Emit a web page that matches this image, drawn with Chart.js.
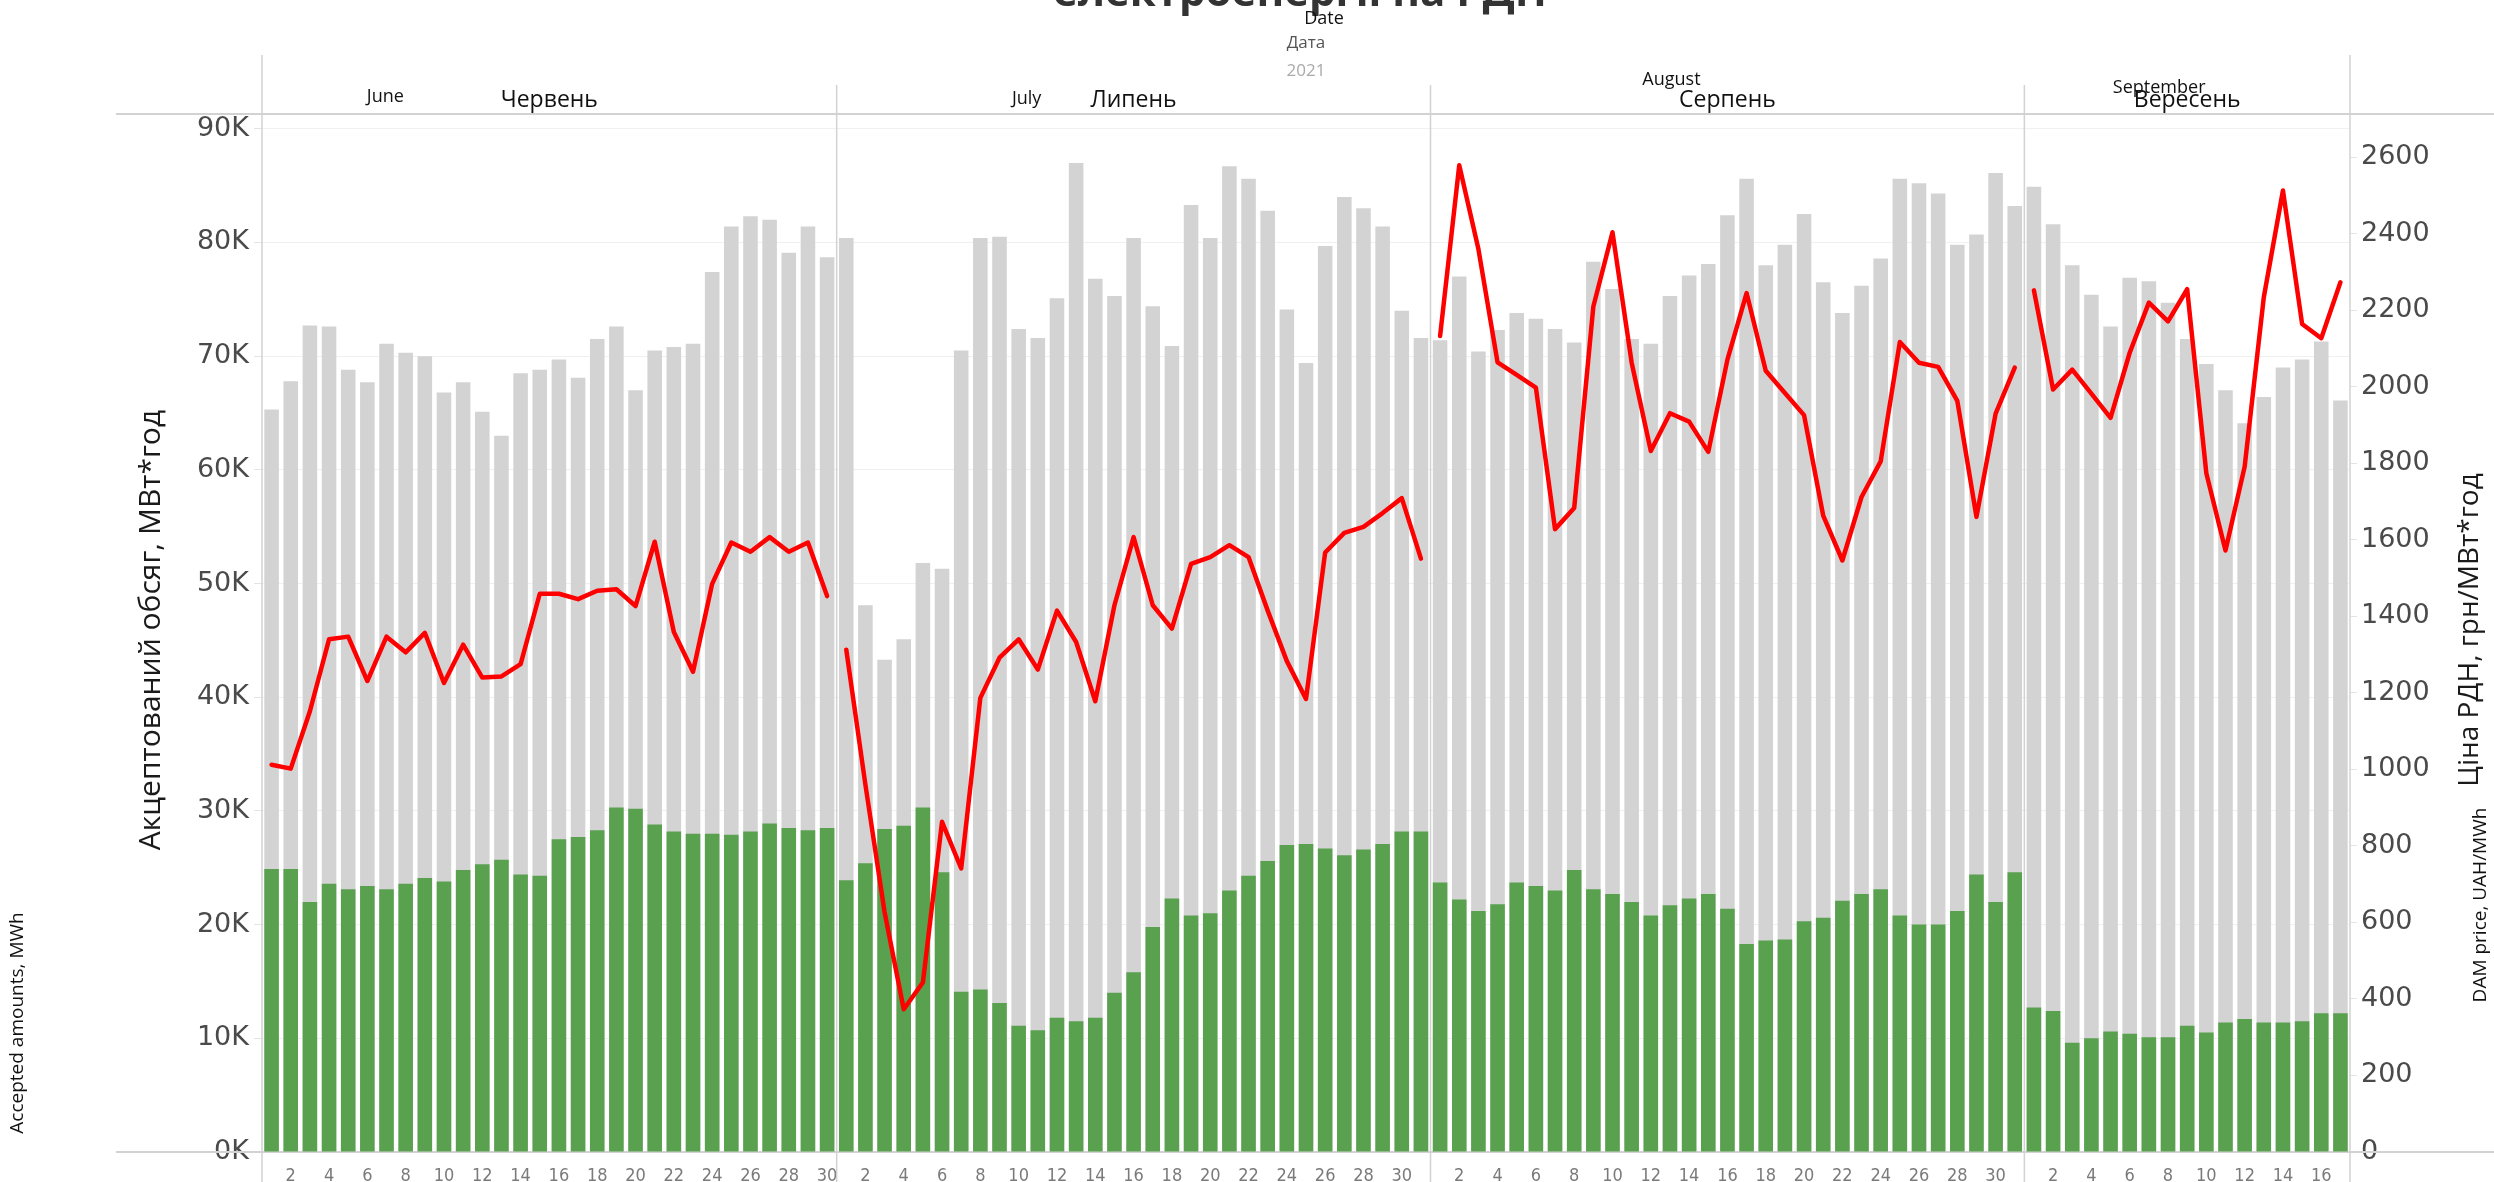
<!DOCTYPE html>
<html>
<head>
<meta charset="utf-8">
<script src="https://cdn.jsdelivr.net/npm/chart.js@4/dist/chart.umd.min.js"></script>
<style>
  html, body { margin: 0; padding: 0; background: #fff; }
  #wrap { width: 2494px; height: 1182px; position: relative; }
  canvas { display: block; }
</style>
</head>
<body>
<div id="wrap"><canvas id="c" width="2494" height="1182"></canvas></div>
<script>
// ---- Data (MWh and UAH/MWh) ----
const monthsUa = ['Червень', 'Липень', 'Серпень', 'Вересень'];
const monthsEn = ['June', 'July', 'August', 'September'];

const juneTotal = [65300,67800,72700,72600,68800,67700,71100,70300,70000,66800,67700,65100,63000,68500,68800,69700,68100,71500,72600,67000,70500,70800,71100,77400,81400,82300,82000,79100,81400,78700];
const juneGreen = [24900,24900,22000,23600,23100,23400,23100,23600,24100,23800,24800,25300,25700,24400,24300,27500,27700,28300,30300,30200,28800,28200,28000,28000,27900,28200,28900,28500,28300,28500];
const junePrice = [1012,1002,1152,1340,1347,1231,1347,1306,1357,1226,1326,1240,1243,1275,1459,1459,1445,1467,1471,1427,1595,1359,1255,1485,1593,1569,1607,1569,1593,1453];

const julyTotal = [80400,48100,43300,45100,51800,51300,70500,80400,80500,72400,71600,75100,87000,76800,75300,80400,74400,70900,83300,80400,86700,85600,82800,74100,69400,79700,84000,83000,81400,74000,71600];
const julyGreen = [23900,25400,28400,28700,30300,24600,14100,14300,13100,11100,10700,11800,11500,11800,14000,15800,19800,22300,20800,21000,23000,24300,25600,27000,27100,26700,26100,26600,27100,28200,28200];
const julyPrice = [1313,960,627,373,443,863,741,1187,1292,1340,1261,1415,1333,1178,1429,1607,1429,1368,1537,1555,1586,1555,1415,1283,1184,1567,1618,1634,1670,1709,1551];

const augTotal = [71400,77000,70400,72300,73800,73300,72400,71200,78300,75900,71500,71100,75300,77100,78100,82400,85600,78000,79800,82500,76500,73800,76200,78600,85600,85200,84300,79800,80700,86100,83200];
const augGreen = [23700,22200,21200,21800,23700,23400,23000,24800,23100,22700,22000,20800,21700,22300,22700,21400,18300,18600,18700,20300,20600,22100,22700,23100,20800,20000,20000,21200,24400,22000,24600];
const augPrice = [2133,2579,2360,2064,2031,1998,1628,1683,2210,2404,2063,1832,1931,1909,1830,2071,2245,2042,1984,1926,1663,1546,1712,1805,2117,2063,2052,1963,1660,1930,2050];

const sepTotal = [84900,81600,78000,75400,72600,76900,76600,74700,71500,69300,67000,64100,66400,69000,69700,71300,66100];
const sepGreen = [12700,12400,9600,10000,10600,10400,10100,10100,11100,10500,11400,11700,11400,11400,11500,12200,12200];
const sepPrice = [2252,1993,2045,1982,1919,2089,2220,2171,2255,1774,1572,1791,2234,2513,2164,2127,2273];

const volumeTicks = [0,10000,20000,30000,40000,50000,60000,70000,80000,90000];
const priceTicks = [0,200,400,600,800,1000,1200,1400,1600,1800,2000,2200,2400,2600];

const totals = [juneTotal, julyTotal, augTotal, sepTotal];
const greens = [juneGreen, julyGreen, augGreen, sepGreen];
const prices = [junePrice, julyPrice, augPrice, sepPrice];

// ---- Build category axis ----
const dayLabels = [];
const monthStart = [];
totals.forEach(arr => { monthStart.push(dayLabels.length); arr.forEach((_, i) => dayLabels.push(i + 1)); });
const N = dayLabels.length;

const allTotal = [].concat(...totals);
const allGreen = [].concat(...greens);

const priceDatasets = prices.map((arr, m) => {
  const d = new Array(N).fill(null);
  arr.forEach((v, i) => { d[monthStart[m] + i] = v; });
  return {
    type: 'line', label: 'Ціна РДН ' + monthsUa[m], data: d, yAxisID: 'y2',
    borderColor: '#ff0000', backgroundColor: '#ff0000', borderWidth: 4.5,
    pointRadius: 0, tension: 0, spanGaps: false, order: 0,
    borderJoinStyle: 'round', borderCapStyle: 'round'
  };
});

const FONT = "'Open Sans', 'Noto Sans', sans-serif";
const LINE = '#d2d2d2';

const decor = {
  id: 'decor',
  beforeDatasetsDraw(chart) {
    const { ctx, chartArea: ca, scales } = chart;
    const x = scales.x;
    ctx.save();
    ctx.strokeStyle = LINE;
    ctx.lineWidth = 2;
    ctx.beginPath();
    ctx.moveTo(116, ca.top); ctx.lineTo(chart.width, ca.top);
    ctx.moveTo(116, ca.bottom); ctx.lineTo(chart.width, ca.bottom);
    ctx.stroke();
    ctx.lineWidth = 1.5;
    ctx.beginPath();
    ctx.moveTo(ca.left, 55); ctx.lineTo(ca.left, chart.height);
    ctx.moveTo(ca.right, 55); ctx.lineTo(ca.right, chart.height);
    for (let m = 1; m < monthStart.length; m++) {
      const i = monthStart[m];
      const px = (x.getPixelForValue(i - 1) + x.getPixelForValue(i)) / 2;
      ctx.moveTo(px, 85); ctx.lineTo(px, chart.height);
    }
    ctx.stroke();
    ctx.restore();
  },
  afterDraw(chart) {
    const { ctx, chartArea: ca, scales } = chart;
    const x = scales.x;
    ctx.save();
    ctx.textAlign = 'center';
    // Title (cut off by the page top)
    ctx.fillStyle = '#333';
    ctx.font = "bold 42px " + FONT;
    ctx.textBaseline = 'alphabetic';
    ctx.fillText('електроенергії на РДН', 1300, 6);
    ctx.textBaseline = 'middle';
    const cx = (ca.left + ca.right) / 2;
    ctx.fillStyle = '#111';
    ctx.font = "18px " + FONT;
    ctx.fillText('Date', cx + 18, 19);
    ctx.fillStyle = '#555';
    ctx.font = "17px " + FONT;
    ctx.fillText('Дата', cx, 43);
    ctx.fillStyle = '#aaa';
    ctx.fillText('2021', cx, 71);
    const enOffset = [-164, -107, -56, -28];
    const enY = [97, 99, 80, 88];
    for (let m = 0; m < monthStart.length; m++) {
      const s = monthStart[m];
      const e = m + 1 < monthStart.length ? monthStart[m + 1] : N;
      const left = m === 0 ? ca.left : (x.getPixelForValue(s - 1) + x.getPixelForValue(s)) / 2;
      const right = e === N ? ca.right : (x.getPixelForValue(e - 1) + x.getPixelForValue(e)) / 2;
      const mc = (left + right) / 2;
      ctx.fillStyle = '#111';
      ctx.font = "23px " + FONT;
      ctx.fillText(monthsUa[m], mc, 100);
      ctx.font = "18px " + FONT;
      ctx.fillText(monthsEn[m], mc + enOffset[m], enY[m]);
    }
    const vt = (text, px, py, font, color) => {
      ctx.save();
      ctx.translate(px, py);
      ctx.rotate(-Math.PI / 2);
      ctx.fillStyle = color;
      ctx.font = font;
      ctx.fillText(text, 0, 0);
      ctx.restore();
    };
    vt('Акцептований обсяг, МВт*год', 151, 630, "30px " + FONT, '#1a1a1a');
    vt('Accepted amounts, MWh', 18, 1023, "19px " + FONT, '#111');
    vt('Ціна РДН, грн/МВт*год', 2470, 630, "28px " + FONT, '#1a1a1a');
    vt('DAM price, UAH/MWh', 2481, 905, "19px " + FONT, '#111');
    ctx.restore();
  }
};

new Chart(document.getElementById('c'), {
  data: {
    labels: dayLabels,
    datasets: [
      ...priceDatasets,
      { type: 'bar', label: 'Green', data: allGreen, yAxisID: 'y', backgroundColor: '#59a14f',
        grouped: false, barPercentage: 0.76, categoryPercentage: 1.0, order: 1 },
      { type: 'bar', label: 'Total', data: allTotal, yAxisID: 'y', backgroundColor: '#d3d3d3',
        grouped: false, barPercentage: 0.76, categoryPercentage: 1.0, order: 2 }
    ]
  },
  options: {
    responsive: false,
    animation: false,
    devicePixelRatio: 1,
    layout: { padding: { top: 114, left: 0, right: 0, bottom: 0 } },
    plugins: { legend: { display: false }, tooltip: { enabled: false }, title: { display: false } },
    scales: {
      x: {
        type: 'category',
        offset: true,
        grid: { display: false },
        border: { display: false },
        ticks: {
          autoSkip: false, maxRotation: 0, minRotation: 0, padding: 6,
          color: '#7a7a7a',
          font: { family: "'Liberation Sans Narrow', 'DejaVu Sans Condensed', sans-serif", size: 18 },
          callback: function (v, i) { const d = dayLabels[i]; return d % 2 === 0 ? String(d) : ''; }
        },
        afterFit(scale) { scale.height = 30; }
      },
      y: {
        position: 'left', min: 0, max: 91300,
        border: { display: false },
        grid: { color: '#f0f0f0', lineWidth: 1, tickLength: 8, tickColor: '#e4e4e4' },
        ticks: {
          padding: 5, color: '#4a4a4a',
          font: { family: "'DejaVu Sans', sans-serif", size: 27 },
          callback: v => (v / 1000) + 'K'
        },
        afterBuildTicks(scale) { scale.ticks = volumeTicks.map(v => ({ value: v })); },
        afterFit(scale) { scale.width = 262; }
      },
      y2: {
        position: 'right', min: 0, max: 2713,
        border: { display: false },
        grid: { drawOnChartArea: false, tickLength: 7, tickColor: '#e4e4e4' },
        ticks: {
          padding: 4, color: '#4a4a4a',
          font: { family: "'DejaVu Sans', sans-serif", size: 27 },
          callback: v => String(v)
        },
        afterBuildTicks(scale) { scale.ticks = priceTicks.map(v => ({ value: v })); },
        afterFit(scale) { scale.width = 144; }
      }
    }
  },
  plugins: [decor]
});
</script>
</body>
</html>
